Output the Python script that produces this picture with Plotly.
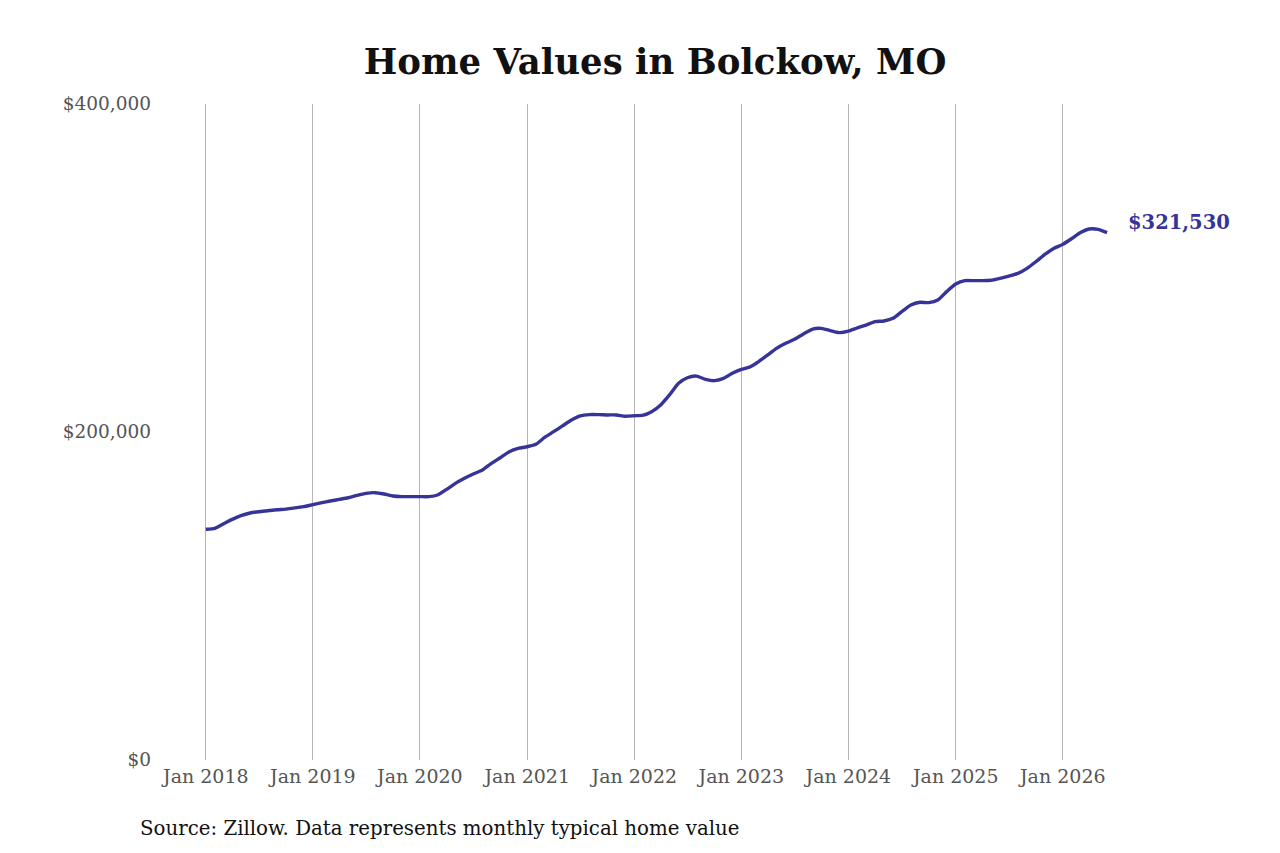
import pandas as pd
import plotly.graph_objects as go

# Monthly typical home value, Jan 2018 .. Jun 2026
values_2018 = [140700, 141300, 143900, 146700, 149000, 150600, 151400, 152000, 152600, 153000, 153700, 154500]
values_2019 = [155700, 156900, 157900, 158900, 159900, 161400, 162600, 163000, 162200, 161000, 160600, 160600]
values_2020 = [160600, 160600, 161600, 165000, 168700, 171800, 174400, 176800, 180900, 184300, 188000, 190000]
values_2021 = [191000, 192700, 196700, 200200, 203700, 207300, 209800, 210600, 210600, 210400, 210400, 209600]
values_2022 = [209900, 210300, 212400, 216500, 222600, 229700, 233100, 234100, 232100, 231300, 232700, 235800]
values_2023 = [238200, 239800, 242900, 247000, 251000, 254100, 256500, 259800, 262800, 263200, 261800, 260600]
values_2024 = [261500, 263500, 265200, 267300, 267700, 269300, 273400, 277400, 279100, 278900, 280500, 285600]
values_2025 = [290200, 292300, 292300, 292300, 292500, 293700, 295100, 296700, 299800, 303800, 308300, 311900]
values_2026 = [314400, 318000, 321500, 323800, 323600, 321530]

values = (values_2018 + values_2019 + values_2020 + values_2021 + values_2022
          + values_2023 + values_2024 + values_2025 + values_2026)
dates = pd.date_range("2018-01-01", periods=len(values), freq="MS")

tick_dates = pd.date_range("2018-01-01", "2026-01-01", freq="YS")
tick_labels = [f"Jan {d.year}" for d in tick_dates]
y_ticks = [0, 200000, 400000]
y_labels = ["$0", "$200,000", "$400,000"]

last_label = f"${values[-1]:,}"

LINE = "rgb(54,52,152)"
SERIF = "DejaVu Serif"

fig = go.Figure()
fig.add_trace(go.Scatter(
    x=dates, y=values, mode="lines",
    line=dict(color=LINE, width=3.4, shape="spline", smoothing=0.6),
    hoverinfo="skip", showlegend=False,
))

fig.add_annotation(
    x=dates[-1], y=values[-1], xref="x", yref="y",
    text=f"<b>{last_label}</b>", showarrow=False,
    xanchor="left", yanchor="middle", xshift=19, yshift=10,
    font=dict(family=SERIF, size=19.5, color=LINE),
)

fig.add_annotation(
    x=-0.0205, y=-0.104, xref="paper", yref="paper",
    text="Source: Zillow. Data represents monthly typical home value",
    showarrow=False, xanchor="left", yanchor="middle",
    font=dict(family=SERIF, size=19.8, color="#111111"),
)

fig.update_layout(
    width=1280, height=853,
    margin=dict(l=150, r=178, t=96, b=101),
    paper_bgcolor="white", plot_bgcolor="white",
    title=dict(
        text="<b>Home Values in Bolckow, MO</b>",
        xref="container", x=0.5055, y=0.9367, xanchor="center", yanchor="middle",
        font=dict(family=SERIF, size=35.5, color="#111111"),
    ),
    xaxis=dict(
        range=["2017-07-22", "2026-06-11"],
        tickvals=tick_dates, ticktext=tick_labels,
        showgrid=True, gridcolor="#b5b5b5", gridwidth=1,
        zeroline=False, showline=False, ticks="",
        ticklabelstandoff=3,
        tickfont=dict(family=SERIF, size=19, color="#555555"),
    ),
    yaxis=dict(
        range=[0, 400000],
        tickvals=y_ticks, ticktext=y_labels,
        showgrid=False, zeroline=False, showline=False, ticks="",
        ticklabelstandoff=6,
        tickfont=dict(family=SERIF, size=18.5, color="#555555"),
    ),
)

fig.write_html("out.html")
